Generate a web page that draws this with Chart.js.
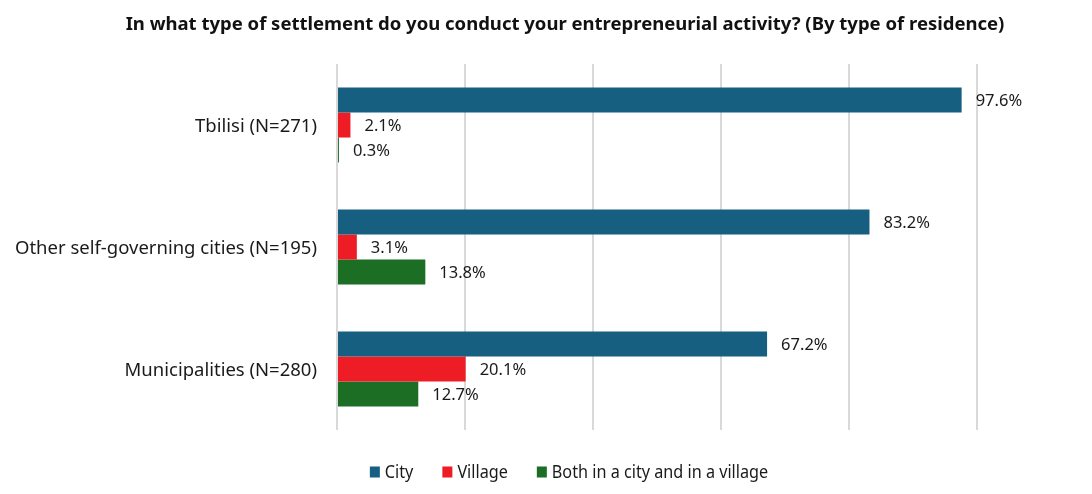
<!DOCTYPE html>
<html>
<head>
<meta charset="utf-8">
<script src="https://cdn.jsdelivr.net/npm/chart.js@4.4.1/dist/chart.umd.min.js"></script>
<style>
  html, body { margin: 0; padding: 0; background: #fff; }
  #wrap { width: 1092px; height: 494px; position: relative; }
</style>
</head>
<body>
<div id="wrap"><canvas id="chart" width="1092" height="494"></canvas></div>
<script>
// Categories (type of residence) and share of respondents per settlement type, %
const categories = ['Tbilisi (N=271)', 'Other self-governing cities (N=195)', 'Municipalities (N=280)'];
const seriesNames = ['City', 'Village', 'Both in a city and in a village'];
const cityValues = [97.6, 83.2, 67.2];
const villageValues = [2.1, 3.1, 20.1];
const bothValues = [0.3, 13.8, 12.7];
const xTicks = [0, 20, 40, 60, 80, 100];
const chartTitle = 'In what type of settlement do you conduct your entrepreneurial activity? (By type of residence)';

const colors = ['#175f80', '#ee1c25', '#1b6e24'];
const FONT = "'Noto Sans', 'Open Sans', sans-serif";
const TEXT = '#1a1a1a';

// Writes each bar's value just past its end
const valueLabels = {
  id: 'valueLabels',
  afterDatasetsDraw(chart) {
    const ctx = chart.ctx;
    ctx.save();
    ctx.font = '16.5px ' + FONT;
    ctx.fillStyle = TEXT;
    ctx.textBaseline = 'middle';
    ctx.textAlign = 'left';
    chart.data.datasets.forEach((ds, i) => {
      const meta = chart.getDatasetMeta(i);
      meta.data.forEach((bar, j) => {
        ctx.fillText(ds.data[j].toFixed(1) + '%', bar.x + 14, bar.y + 1);
      });
    });
    ctx.restore();
  }
};

// Heading, centred a little right of the canvas middle
const heading = {
  id: 'heading',
  afterDraw(chart) {
    const ctx = chart.ctx;
    ctx.save();
    ctx.font = 'bold 18.5px ' + FONT;
    ctx.fillStyle = '#111';
    ctx.textAlign = 'center';
    ctx.textBaseline = 'middle';
    ctx.fillText(chartTitle, 565, 25);
    ctx.restore();
  }
};

// Bottom legend with slightly narrowed lettering
const bottomLegend = {
  id: 'bottomLegend',
  afterDraw(chart) {
    const ctx = chart.ctx;
    const squeeze = 0.9, gap = 29, box = 10, boxGap = 5;
    const cy = 472;
    ctx.save();
    ctx.font = '18px ' + FONT;
    const items = chart.data.datasets.map(ds => ({
      text: ds.label, color: ds.backgroundColor,
      w: box + boxGap + ctx.measureText(ds.label).width * squeeze
    }));
    const total = items.reduce((s, it) => s + it.w, 0) + gap * (items.length - 1);
    let x = 569 - total / 2;
    ctx.textBaseline = 'middle';
    items.forEach(it => {
      ctx.fillStyle = it.color;
      ctx.fillRect(x, cy - 5.5, box, 11);
      ctx.save();
      ctx.translate(x + box + boxGap, cy);
      ctx.scale(squeeze, 1);
      ctx.fillStyle = TEXT;
      ctx.fillText(it.text, 0, 1);
      ctx.restore();
      x += it.w + gap;
    });
    ctx.restore();
  }
};

new Chart(document.getElementById('chart'), {
  type: 'bar',
  data: {
    labels: categories,
    datasets: [
      { label: seriesNames[0], data: cityValues, backgroundColor: colors[0] },
      { label: seriesNames[1], data: villageValues, backgroundColor: colors[1] },
      { label: seriesNames[2], data: bothValues, backgroundColor: colors[2] }
    ]
  },
  options: {
    indexAxis: 'y',
    responsive: false,
    animation: false,
    layout: { padding: { left: 0, right: 115, top: 64, bottom: 64 } },
    datasets: { bar: { barPercentage: 1, categoryPercentage: 0.616 } },
    scales: {
      x: {
        min: 0, max: 100,
        afterBuildTicks(scale) { scale.ticks = xTicks.map(v => ({ value: v })); },
        ticks: { display: false },
        grid: { color: '#d9d9d9', lineWidth: 2, drawTicks: false },
        border: { display: false }
      },
      y: {
        grid: { display: false },
        border: { display: false },
        ticks: { color: TEXT, font: { family: FONT, size: 18.5 }, padding: 12, labelOffset: 2 },
        afterFit(scale) { scale.width = 337; }
      }
    },
    plugins: {
      title: { display: false },
      legend: { display: false },
      tooltip: { enabled: false }
    }
  },
  plugins: [valueLabels, heading, bottomLegend]
});
</script>
</body>
</html>
